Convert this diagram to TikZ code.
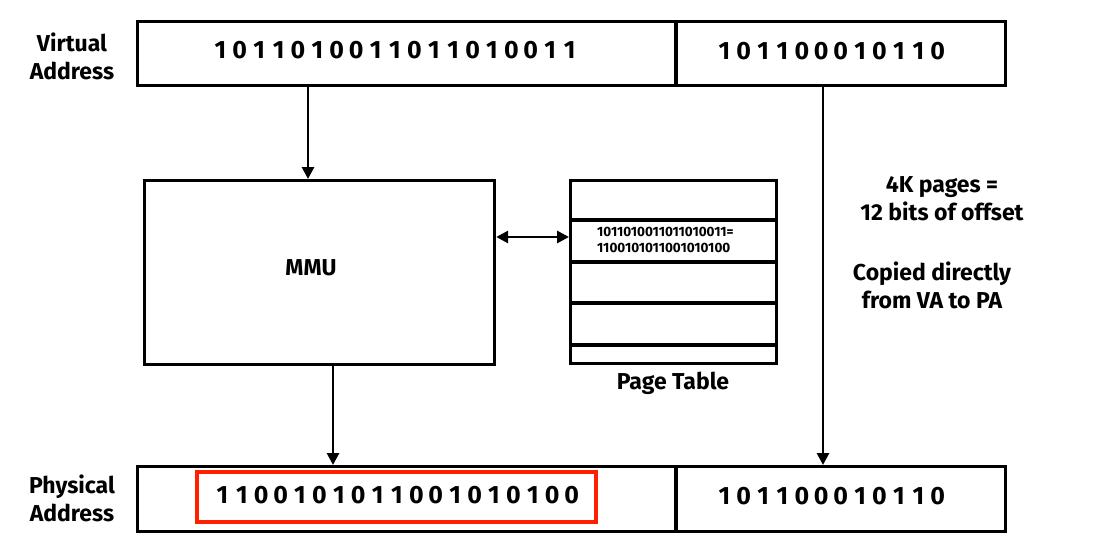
\documentclass[tikz,border=0pt]{standalone}
\usepackage{fontspec}
\setmainfont{Fira Sans}
\usetikzlibrary{arrows.meta}
\def\spd#1{\ifx#1\relax\else\makebox[19.4pt]{#1}\expandafter\spd\fi}
\begin{document}
\begin{tikzpicture}[x=1pt,y=-1pt,
  box/.style={draw=black,line width=3.2pt},
  lbl/.style={font=\fontsize{23}{28}\selectfont\bfseries,align=center,inner sep=0pt},
  bits/.style={font=\fontsize{25}{26}\selectfont\bfseries,inner sep=0pt},
  small/.style={font=\fontsize{13.5}{16}\selectfont\bfseries,align=left,inner sep=0pt,anchor=west},
  arr/.style={line width=2.8pt,-{Triangle[length=12pt,width=12pt]}},
  darr/.style={line width=2.8pt,{Triangle[length=12pt,width=12pt]}-{Triangle[length=12pt,width=12pt]}}]
\useasboundingbox (0,0) rectangle (1093,551);
% boxes
\node[box,minimum width=868pt,minimum height=64pt,inner sep=0pt,anchor=north west] (va) at (136,20) {};
\node[box,minimum width=868pt,minimum height=65pt,inner sep=0pt,anchor=north west] (pa) at (136,465) {};
\draw[line width=3.2pt] (676,20) -- (676,84);
\draw[line width=3.2pt] (676,465) -- (676,530);
\node[box,minimum width=350pt,minimum height=184pt,inner sep=0pt,anchor=north west] (mmu) at (143,179) {};
\node[lbl] at (311,268) {MMU};
\node[box,minimum width=206pt,minimum height=183pt,inner sep=0pt,anchor=north west] (pt) at (569,179) {};
\foreach \yy in {220,262,303,345} \draw[line width=3.2pt] (569,\yy) -- (775,\yy);
\node[small] at (597,240) {1011010011011010011=\\1100101011001010100};
\node[lbl] (ptl) at (673,383) {Page Table};
% bit strings
\node[bits] (vah) at (395,50) {\spd 1011010011011010011\relax};
\node[bits] (vao) at (831,51) {\spd 101100010110\relax};
\node[bits] (pah) at (397,495) {\spd 1100101011001010100\relax};
\node[bits] (pao) at (831,496) {\spd 101100010110\relax};
\node[draw=red!75!orange,line width=3.5pt,minimum width=399pt,minimum height=50pt,inner sep=0pt] (hl) at (396.5,497) {};
% labels
\node[lbl] (vl) at (72,56) {Virtual\\Address};
\node[lbl] (pl) at (72,498) {Physical\\Address};
\node[lbl] (n1) at (942,199) {4K pages =\\12 bits of offset};
\node[lbl] (n2) at (932,285) {Copied directly\\from VA to PA};
% arrows
\coordinate (a1) at (308,84);
\coordinate (a2) at (333,363);
\coordinate (a3) at (823,84);
\draw[arr] (a1) -- (a1 |- mmu.north);
\draw[arr] (a2) -- (a2 |- pa.north);
\draw[arr] (a3) -- (a3 |- pa.north);
\draw[darr] (mmu.east |- 0,237) -- (pt.west |- 0,237);
\end{tikzpicture}
\end{document}
